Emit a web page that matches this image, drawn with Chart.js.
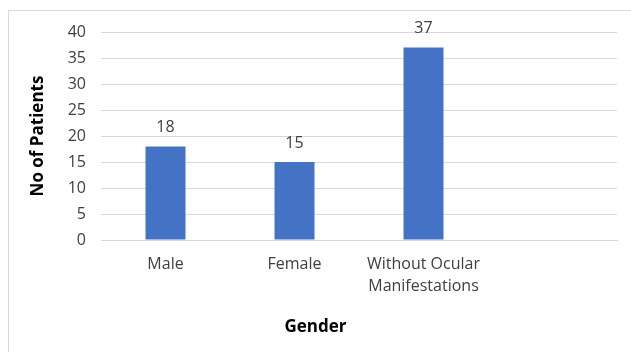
<!DOCTYPE html>
<html>
<head>
<meta charset="utf-8">
<script src="https://cdn.jsdelivr.net/npm/chart.js@4.4.1/dist/chart.umd.min.js"></script>
<style>
  html, body { margin: 0; padding: 0; background: #ffffff; }
  #wrap { position: relative; width: 631px; height: 352px; }
  #frame { position: absolute; left: 8px; top: 10px; width: 640px; height: 360px;
           border: 1px solid #d9d9d9; box-sizing: border-box; }
  canvas { position: absolute; left: 0; top: 0; }
</style>
</head>
<body>
<div id="wrap">
  <div id="frame"></div>
  <canvas id="chart" width="631" height="352"></canvas>
</div>
<script>
// Patient counts by group
const categories = ['Male', 'Female', ['Without Ocular', 'Manifestations'], ''];
const patients = [18, 15, 37, null];
const yTicks = [0, 5, 10, 15, 20, 25, 30, 35, 40];
const xTitle = 'Gender';
const yTitle = 'No of Patients';

const FONT = "'Open Sans', 'DejaVu Sans', sans-serif";

// Writes each bar's value just above it, and the x-axis title centred on the page
const annotate = {
  id: 'annotate',
  afterDatasetsDraw(chart) {
    const ctx = chart.ctx;
    const meta = chart.getDatasetMeta(0);
    ctx.save();
    ctx.font = '16px ' + FONT;
    ctx.fillStyle = '#404040';
    ctx.textAlign = 'center';
    ctx.textBaseline = 'middle';
    meta.data.forEach((bar, i) => {
      const v = patients[i];
      if (v === null || v === undefined) return;
      ctx.fillText(String(v), bar.x, bar.y - 19);
    });
    ctx.font = 'bold 17px ' + FONT;
    ctx.fillStyle = '#000000';
    ctx.fillText(xTitle, chart.width / 2, 327);
    ctx.restore();
  }
};

new Chart(document.getElementById('chart'), {
  type: 'bar',
  data: {
    labels: categories,
    datasets: [{
      data: patients,
      backgroundColor: '#4472C4',
      borderWidth: 0,
      barPercentage: 0.31,
      categoryPercentage: 1.0
    }]
  },
  options: {
    responsive: false,
    animation: false,
    layout: { padding: { left: 28, right: 14, top: 32, bottom: 12 } },
    plugins: { legend: { display: false }, tooltip: { enabled: false } },
    scales: {
      x: {
        grid: { display: false, drawTicks: false },
        border: { display: true, color: '#d9d9d9', width: 1 },
        ticks: {
          color: '#404040',
          font: { family: FONT, size: 16, lineHeight: 1.4 },
          padding: 13,
          maxRotation: 0,
          autoSkip: false
        },
        afterFit(scale) { scale.height = 100; }
      },
      y: {
        min: 0,
        max: 40,
        afterBuildTicks(scale) { scale.ticks = yTicks.map(v => ({ value: v })); },
        grid: { color: '#d9d9d9', lineWidth: 1, drawTicks: false },
        border: { display: false },
        ticks: {
          color: '#404040',
          font: { family: FONT, size: 16 },
          padding: 15
        },
        title: {
          display: true,
          text: yTitle,
          color: '#000000',
          font: { family: FONT, size: 17, weight: 'bold' },
          padding: 0
        },
        afterFit(scale) { scale.width = 73; }
      }
    }
  },
  plugins: [annotate]
});
</script>
</body>
</html>
